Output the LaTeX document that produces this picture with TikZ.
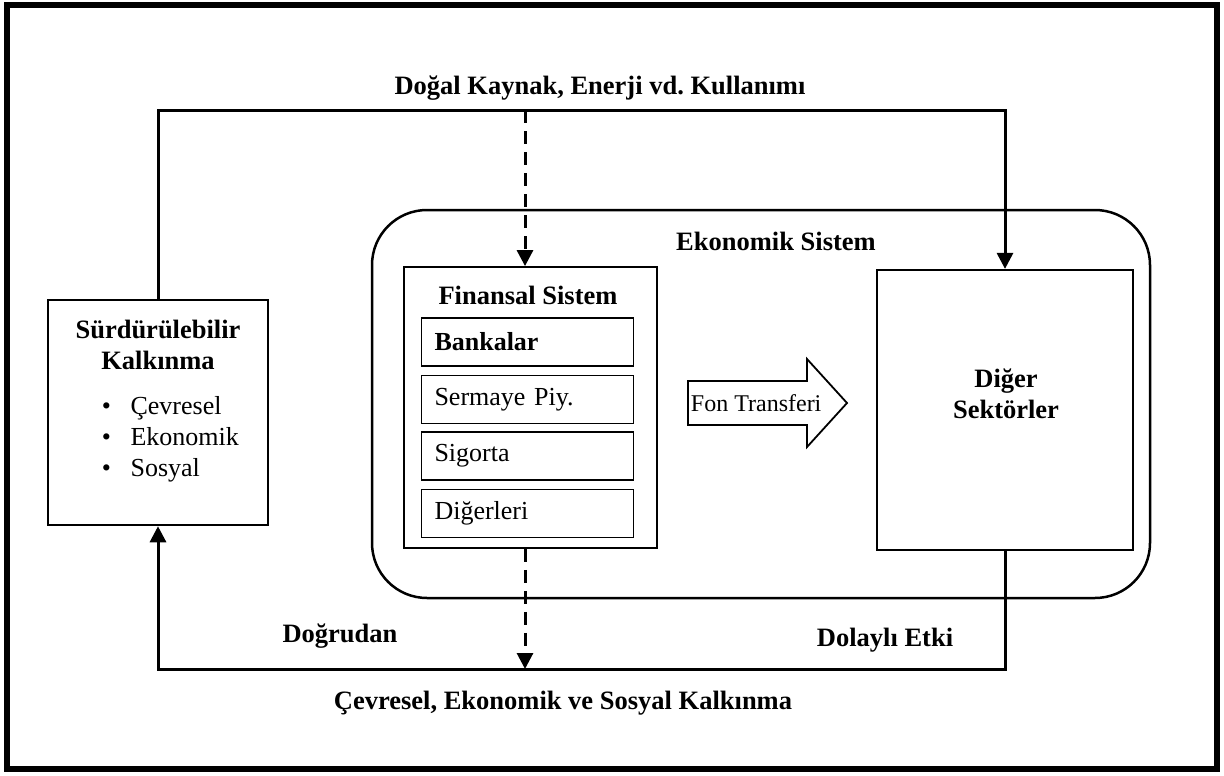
\documentclass[tikz,border=0pt]{standalone}
\usepackage{fontspec}
\setmainfont{Liberation Serif}
\usetikzlibrary{arrows.meta}

\tikzset{
  line/.style={line width=3pt},
  tip/.style={-{Triangle[length=16pt,width=16pt]}},
  dashline/.style={dash pattern=on 13pt off 8pt},
  box/.style={draw, line width=2.2pt, inner sep=0pt},
  subbox/.style={draw, line width=1.8pt, minimum width=212pt, minimum height=48pt,
    inner xsep=13pt, inner ysep=0pt, text width=186pt, align=left,
    font=\fontsize{26}{31}\selectfont},
  lbl/.style={font=\fontsize{26.5}{31}\selectfont\bfseries, inner sep=0.75pt},
  txt/.style={font=\fontsize{26}{31}\selectfont, inner sep=0.75pt}
}

\begin{document}
\frenchspacing
\begin{tikzpicture}[x=1pt,y=1pt,yscale=-1,xscale=1]
%set diagram left start at 0, and has size of 1224 x 776
\useasboundingbox (0,0) rectangle (1224,776);
%Frame
\draw [line width=6pt] (7,5) rectangle (1217,769);

%Shape: Rounded Rect [id:ekonomik]
\node (eko) [box, line width=2.5pt, rounded corners=55pt, minimum width=778pt, minimum height=388pt] at (761,404) {};
%Shape: Rectangle [id:surdurulebilir]
\node (surd) [box, line width=2.5pt, minimum width=220pt, minimum height=225pt] at (158,412.5) {};
%Shape: Rectangle [id:finansal]
\node (fin) [box, line width=1.8pt, minimum width=253pt, minimum height=281pt] at (530.5,407.5) {};
%Shape: Rectangle [id:diger]
\node (diger) [box, minimum width=256pt, minimum height=280pt] at (1005,410) {};

%Sub boxes
\node (banka) [subbox] at (527.5,342) {\bfseries Bankalar};
\node (serm) [subbox] at (527.5,399.5) {Sermaye Piy.};
\node (sig) [subbox] at (527.5,456) {Sigorta};
\node (dig) [subbox] at (527.5,513.5) {Diğerleri};

%Shape: Right Arrow [id:fon]
\draw [line width=1.8pt] (688,381) -- (807,381) -- (807,359) -- (847,403) -- (807,447) -- (807,425) -- (688,425) -- cycle ;
% Text Node
\node (fon) [txt, font=\fontsize{24}{28}\selectfont, anchor=west] at (690,403) {Fon Transferi};

% Text Node
\node (dkay) [lbl] at (600,88) {Doğal Kaynak, Enerji vd. Kullanımı};
% Text Node
\node (ekot) [lbl] at (776,241) {Ekonomik Sistem};
% Text Node
\node (fint) [lbl] at (528,295) {Finansal Sistem};
% Text Node
\node (digt) [lbl, align=center] at (1006,394) {Diğer\\Sektörler};
% Text Node
\node (surdt) [lbl, align=center] at (158,345) {Sürdürülebilir\\Kalkınma};
% Text Node
\node (bul) [txt, align=left, anchor=north west] at (101,396) {\textbullet\ \ \ Çevresel\\\textbullet\ \ \ Ekonomik\\\textbullet\ \ \ Sosyal};
% Text Node
\node (dogr) [lbl] at (340,636) {Doğrudan};
% Text Node
\node (dol) [lbl] at (885,640) {Dolaylı Etki};
% Text Node
\node (kalk) [lbl] at (563,703) {Çevresel, Ekonomik ve Sosyal Kalkınma};

%Connectors
\coordinate (top) at (525,110);
\coordinate (bot) at (525,669);
\draw [line, tip] (surd.north) |- (top) -| (diger.north);
\draw [line, dashline, tip] (top) -- (top |- fin.north);
\draw [line, dashline, tip] (bot |- fin.south) -- (bot);
\draw [line, tip] (diger.south) |- (bot) -| (surd.south);

\end{tikzpicture}
\end{document}
